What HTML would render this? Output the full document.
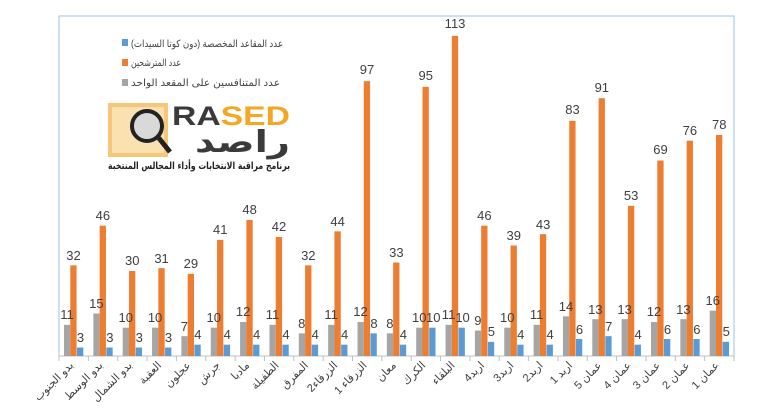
<!DOCTYPE html>
<html><head><meta charset="utf-8"><style>
html,body{margin:0;padding:0;background:#fff;}
svg{display:block;font-family:"Liberation Sans","DejaVu Sans",sans-serif;}
.v{font-size:13px;fill:#404040;text-anchor:middle;}
.x{font-size:11px;fill:#404040;text-anchor:end;}
</style></head><body>
<svg width="769" height="417" viewBox="0 0 769 417" xmlns="http://www.w3.org/2000/svg">
<rect x="59" y="16" width="675" height="340" fill="none" stroke="#9dc3e6" stroke-width="1"/>
<line x1="59" y1="356" x2="734" y2="356" stroke="#bfbfbf"/>
<g stroke="#bfbfbf">
<line x1="59" y1="356" x2="59" y2="361"/><line x1="88.35" y1="356" x2="88.35" y2="361"/><line x1="117.7" y1="356" x2="117.7" y2="361"/><line x1="147.05" y1="356" x2="147.05" y2="361"/><line x1="176.4" y1="356" x2="176.4" y2="361"/><line x1="205.75" y1="356" x2="205.75" y2="361"/><line x1="235.1" y1="356" x2="235.1" y2="361"/><line x1="264.45" y1="356" x2="264.45" y2="361"/><line x1="293.8" y1="356" x2="293.8" y2="361"/><line x1="323.15" y1="356" x2="323.15" y2="361"/><line x1="352.5" y1="356" x2="352.5" y2="361"/><line x1="381.85" y1="356" x2="381.85" y2="361"/><line x1="411.2" y1="356" x2="411.2" y2="361"/><line x1="440.55" y1="356" x2="440.55" y2="361"/><line x1="469.9" y1="356" x2="469.9" y2="361"/><line x1="499.25" y1="356" x2="499.25" y2="361"/><line x1="528.6" y1="356" x2="528.6" y2="361"/><line x1="557.95" y1="356" x2="557.95" y2="361"/><line x1="587.3" y1="356" x2="587.3" y2="361"/><line x1="616.65" y1="356" x2="616.65" y2="361"/><line x1="646" y1="356" x2="646" y2="361"/><line x1="675.35" y1="356" x2="675.35" y2="361"/><line x1="704.7" y1="356" x2="704.7" y2="361"/><line x1="734" y1="356" x2="734" y2="361"/>
</g>

<g transform="translate(59,0)"><g transform="translate(0,356) scale(1,-2.833)"><rect x="5" y="0" width="6.3" height="11" fill="#a5a5a5"/><rect x="11.3" y="0" width="6.3" height="32" fill="#ed7d31"/><rect x="18" y="0" width="6.3" height="3" fill="#5b9bd5"/></g>
<text class="v" x="8" y="319">11</text><text class="v" x="14.5" y="260">32</text><text class="v" x="21.5" y="342">3</text>
<text class="x" transform="translate(15,366) rotate(-45)">بدو الجنوب</text></g>

<g transform="translate(88.35,0)"><g transform="translate(0,356) scale(1,-2.833)"><rect x="5" y="0" width="6.3" height="15" fill="#a5a5a5"/><rect x="11.3" y="0" width="6.3" height="46" fill="#ed7d31"/><rect x="18" y="0" width="6.3" height="3" fill="#5b9bd5"/></g>
<text class="v" x="8" y="308">15</text><text class="v" x="14.5" y="220">46</text><text class="v" x="21.5" y="342">3</text>
<text class="x" transform="translate(15,366) rotate(-45)">بدو الوسط</text></g>

<g transform="translate(117.7,0)"><g transform="translate(0,356) scale(1,-2.833)"><rect x="5" y="0" width="6.3" height="10" fill="#a5a5a5"/><rect x="11.3" y="0" width="6.3" height="30" fill="#ed7d31"/><rect x="18" y="0" width="6.3" height="3" fill="#5b9bd5"/></g>
<text class="v" x="8" y="322">10</text><text class="v" x="14.5" y="265">30</text><text class="v" x="21.5" y="342">3</text>
<text class="x" transform="translate(15,366) rotate(-45)">بدو الشمال</text></g>

<g transform="translate(147.05,0)"><g transform="translate(0,356) scale(1,-2.833)"><rect x="5" y="0" width="6.3" height="10" fill="#a5a5a5"/><rect x="11.3" y="0" width="6.3" height="31" fill="#ed7d31"/><rect x="18" y="0" width="6.3" height="3" fill="#5b9bd5"/></g>
<text class="v" x="8" y="322">10</text><text class="v" x="14.5" y="263">31</text><text class="v" x="21.5" y="342">3</text>
<text class="x" transform="translate(15,366) rotate(-45)">العقبة</text></g>

<g transform="translate(176.4,0)"><g transform="translate(0,356) scale(1,-2.833)"><rect x="5" y="0" width="6.3" height="7" fill="#a5a5a5"/><rect x="11.3" y="0" width="6.3" height="29" fill="#ed7d31"/><rect x="18" y="0" width="6.3" height="4" fill="#5b9bd5"/></g>
<text class="v" x="8" y="331">7</text><text class="v" x="14.5" y="268">29</text><text class="v" x="21.5" y="339">4</text>
<text class="x" transform="translate(15,366) rotate(-45)">عجلون</text></g>

<g transform="translate(205.75,0)"><g transform="translate(0,356) scale(1,-2.833)"><rect x="5" y="0" width="6.3" height="10" fill="#a5a5a5"/><rect x="11.3" y="0" width="6.3" height="41" fill="#ed7d31"/><rect x="18" y="0" width="6.3" height="4" fill="#5b9bd5"/></g>
<text class="v" x="8" y="322">10</text><text class="v" x="14.5" y="234">41</text><text class="v" x="21.5" y="339">4</text>
<text class="x" transform="translate(15,366) rotate(-45)">جرش</text></g>

<g transform="translate(235.1,0)"><g transform="translate(0,356) scale(1,-2.833)"><rect x="5" y="0" width="6.3" height="12" fill="#a5a5a5"/><rect x="11.3" y="0" width="6.3" height="48" fill="#ed7d31"/><rect x="18" y="0" width="6.3" height="4" fill="#5b9bd5"/></g>
<text class="v" x="8" y="316">12</text><text class="v" x="14.5" y="214">48</text><text class="v" x="21.5" y="339">4</text>
<text class="x" transform="translate(15,366) rotate(-45)">مادبا</text></g>

<g transform="translate(264.45,0)"><g transform="translate(0,356) scale(1,-2.833)"><rect x="5" y="0" width="6.3" height="11" fill="#a5a5a5"/><rect x="11.3" y="0" width="6.3" height="42" fill="#ed7d31"/><rect x="18" y="0" width="6.3" height="4" fill="#5b9bd5"/></g>
<text class="v" x="8" y="319">11</text><text class="v" x="14.5" y="231">42</text><text class="v" x="21.5" y="339">4</text>
<text class="x" transform="translate(15,366) rotate(-45)">الطفيلة</text></g>

<g transform="translate(293.8,0)"><g transform="translate(0,356) scale(1,-2.833)"><rect x="5" y="0" width="6.3" height="8" fill="#a5a5a5"/><rect x="11.3" y="0" width="6.3" height="32" fill="#ed7d31"/><rect x="18" y="0" width="6.3" height="4" fill="#5b9bd5"/></g>
<text class="v" x="8" y="328">8</text><text class="v" x="14.5" y="260">32</text><text class="v" x="21.5" y="339">4</text>
<text class="x" transform="translate(15,366) rotate(-45)">المفرق</text></g>

<g transform="translate(323.15,0)"><g transform="translate(0,356) scale(1,-2.833)"><rect x="5" y="0" width="6.3" height="11" fill="#a5a5a5"/><rect x="11.3" y="0" width="6.3" height="44" fill="#ed7d31"/><rect x="18" y="0" width="6.3" height="4" fill="#5b9bd5"/></g>
<text class="v" x="8" y="319">11</text><text class="v" x="14.5" y="226">44</text><text class="v" x="21.5" y="339">4</text>
<text class="x" transform="translate(15,366) rotate(-45)">الزرقاء2</text></g>

<g transform="translate(352.5,0)"><g transform="translate(0,356) scale(1,-2.833)"><rect x="5" y="0" width="6.3" height="12" fill="#a5a5a5"/><rect x="11.3" y="0" width="6.3" height="97" fill="#ed7d31"/><rect x="18" y="0" width="6.3" height="8" fill="#5b9bd5"/></g>
<text class="v" x="8" y="316">12</text><text class="v" x="14.5" y="74">97</text><text class="v" x="21.5" y="328">8</text>
<text class="x" transform="translate(15,366) rotate(-45)">الزرقاء 1</text></g>

<g transform="translate(381.85,0)"><g transform="translate(0,356) scale(1,-2.833)"><rect x="5" y="0" width="6.3" height="8" fill="#a5a5a5"/><rect x="11.3" y="0" width="6.3" height="33" fill="#ed7d31"/><rect x="18" y="0" width="6.3" height="4" fill="#5b9bd5"/></g>
<text class="v" x="8" y="328">8</text><text class="v" x="14.5" y="257">33</text><text class="v" x="21.5" y="339">4</text>
<text class="x" transform="translate(15,366) rotate(-45)">معان</text></g>

<g transform="translate(411.2,0)"><g transform="translate(0,356) scale(1,-2.833)"><rect x="5" y="0" width="6.3" height="10" fill="#a5a5a5"/><rect x="11.3" y="0" width="6.3" height="95" fill="#ed7d31"/><rect x="18" y="0" width="6.3" height="10" fill="#5b9bd5"/></g>
<text class="v" x="8" y="322">10</text><text class="v" x="14.5" y="80">95</text><text class="v" x="22" y="322">10</text>
<text class="x" transform="translate(15,366) rotate(-45)">الكرك</text></g>

<g transform="translate(440.55,0)"><g transform="translate(0,356) scale(1,-2.833)"><rect x="5" y="0" width="6.3" height="11" fill="#a5a5a5"/><rect x="11.3" y="0" width="6.3" height="113" fill="#ed7d31"/><rect x="18" y="0" width="6.3" height="10" fill="#5b9bd5"/></g>
<text class="v" x="8" y="319">11</text><text class="v" x="14.5" y="28">113</text><text class="v" x="22" y="322">10</text>
<text class="x" transform="translate(15,366) rotate(-45)">البلقاء</text></g>

<g transform="translate(469.9,0)"><g transform="translate(0,356) scale(1,-2.833)"><rect x="5" y="0" width="6.3" height="9" fill="#a5a5a5"/><rect x="11.3" y="0" width="6.3" height="46" fill="#ed7d31"/><rect x="18" y="0" width="6.3" height="5" fill="#5b9bd5"/></g>
<text class="v" x="8" y="325">9</text><text class="v" x="14.5" y="220">46</text><text class="v" x="21.5" y="336">5</text>
<text class="x" transform="translate(15,366) rotate(-45)">اربد4</text></g>

<g transform="translate(499.25,0)"><g transform="translate(0,356) scale(1,-2.833)"><rect x="5" y="0" width="6.3" height="10" fill="#a5a5a5"/><rect x="11.3" y="0" width="6.3" height="39" fill="#ed7d31"/><rect x="18" y="0" width="6.3" height="4" fill="#5b9bd5"/></g>
<text class="v" x="8" y="322">10</text><text class="v" x="14.5" y="240">39</text><text class="v" x="21.5" y="339">4</text>
<text class="x" transform="translate(15,366) rotate(-45)">اربد3</text></g>

<g transform="translate(528.6,0)"><g transform="translate(0,356) scale(1,-2.833)"><rect x="5" y="0" width="6.3" height="11" fill="#a5a5a5"/><rect x="11.3" y="0" width="6.3" height="43" fill="#ed7d31"/><rect x="18" y="0" width="6.3" height="4" fill="#5b9bd5"/></g>
<text class="v" x="8" y="319">11</text><text class="v" x="14.5" y="229">43</text><text class="v" x="21.5" y="339">4</text>
<text class="x" transform="translate(15,366) rotate(-45)">اربد2</text></g>

<g transform="translate(557.95,0)"><g transform="translate(0,356) scale(1,-2.833)"><rect x="5" y="0" width="6.3" height="14" fill="#a5a5a5"/><rect x="11.3" y="0" width="6.3" height="83" fill="#ed7d31"/><rect x="18" y="0" width="6.3" height="6" fill="#5b9bd5"/></g>
<text class="v" x="8" y="311">14</text><text class="v" x="14.5" y="114">83</text><text class="v" x="21.5" y="334">6</text>
<text class="x" transform="translate(15,366) rotate(-45)">اربد 1</text></g>

<g transform="translate(587.3,0)"><g transform="translate(0,356) scale(1,-2.833)"><rect x="5" y="0" width="6.3" height="13" fill="#a5a5a5"/><rect x="11.3" y="0" width="6.3" height="91" fill="#ed7d31"/><rect x="18" y="0" width="6.3" height="7" fill="#5b9bd5"/></g>
<text class="v" x="8" y="314">13</text><text class="v" x="14.5" y="92">91</text><text class="v" x="21.5" y="331">7</text>
<text class="x" transform="translate(15,366) rotate(-45)">عمان 5</text></g>

<g transform="translate(616.65,0)"><g transform="translate(0,356) scale(1,-2.833)"><rect x="5" y="0" width="6.3" height="13" fill="#a5a5a5"/><rect x="11.3" y="0" width="6.3" height="53" fill="#ed7d31"/><rect x="18" y="0" width="6.3" height="4" fill="#5b9bd5"/></g>
<text class="v" x="8" y="314">13</text><text class="v" x="14.5" y="200">53</text><text class="v" x="21.5" y="339">4</text>
<text class="x" transform="translate(15,366) rotate(-45)">عمان 4</text></g>

<g transform="translate(646,0)"><g transform="translate(0,356) scale(1,-2.833)"><rect x="5" y="0" width="6.3" height="12" fill="#a5a5a5"/><rect x="11.3" y="0" width="6.3" height="69" fill="#ed7d31"/><rect x="18" y="0" width="6.3" height="6" fill="#5b9bd5"/></g>
<text class="v" x="8" y="316">12</text><text class="v" x="14.5" y="154">69</text><text class="v" x="21.5" y="334">6</text>
<text class="x" transform="translate(15,366) rotate(-45)">عمان 3</text></g>

<g transform="translate(675.35,0)"><g transform="translate(0,356) scale(1,-2.833)"><rect x="5" y="0" width="6.3" height="13" fill="#a5a5a5"/><rect x="11.3" y="0" width="6.3" height="76" fill="#ed7d31"/><rect x="18" y="0" width="6.3" height="6" fill="#5b9bd5"/></g>
<text class="v" x="8" y="314">13</text><text class="v" x="14.5" y="135">76</text><text class="v" x="21.5" y="334">6</text>
<text class="x" transform="translate(15,366) rotate(-45)">عمان 2</text></g>

<g transform="translate(704.7,0)"><g transform="translate(0,356) scale(1,-2.833)"><rect x="5" y="0" width="6.3" height="16" fill="#a5a5a5"/><rect x="11.3" y="0" width="6.3" height="78" fill="#ed7d31"/><rect x="18" y="0" width="6.3" height="5" fill="#5b9bd5"/></g>
<text class="v" x="8" y="305">16</text><text class="v" x="14.5" y="129">78</text><text class="v" x="21.5" y="336">5</text>
<text class="x" transform="translate(15,366) rotate(-45)">عمان 1</text></g>

<!-- legend -->
<g font-size="10" fill="#404040" font-family="'Liberation Sans','DejaVu Sans',sans-serif">
<rect x="122" y="39" width="6" height="7" fill="#5b9bd5"/><text x="131" y="47" textLength="152" lengthAdjust="spacingAndGlyphs">عدد المقاعد المخصصة (دون كوتا السيدات)</text>
<rect x="122" y="59" width="6" height="7" fill="#ed7d31"/><text x="131" y="66" textLength="50" lengthAdjust="spacingAndGlyphs">عدد المترشحين</text>
<rect x="122" y="79" width="6" height="7" fill="#a5a5a5"/><text x="131" y="86" textLength="149" lengthAdjust="spacingAndGlyphs">عدد المتنافسين على المقعد الواحد</text>
</g>

<!-- logo -->
<rect x="108" y="103" width="60" height="54" fill="#f7c67a"/>
<rect x="112" y="107" width="52" height="46" fill="#fbe0b0"/>
<circle cx="147" cy="126" r="15" fill="#d9d9d9" stroke="#222" stroke-width="4"/>
<line x1="158" y1="137" x2="170" y2="152" stroke="#222" stroke-width="5"/>
<text x="172" y="125" font-size="27" font-weight="bold" fill="#3a3a3a" textLength="118" lengthAdjust="spacingAndGlyphs" font-family="'Liberation Sans',sans-serif">RA<tspan fill="#f5a623">SED</tspan></text>
<text x="195" y="152" font-size="30" font-weight="bold" fill="#3a3a3a" textLength="95" lengthAdjust="spacingAndGlyphs" font-family="'DejaVu Sans',sans-serif">راصد</text>
<text x="108" y="169" font-size="10" font-weight="bold" fill="#222" textLength="182" lengthAdjust="spacingAndGlyphs" font-family="'DejaVu Sans',sans-serif">برنامج مراقبة الانتخابات وأداء المجالس المنتخبة</text>
</svg>
</body></html>
